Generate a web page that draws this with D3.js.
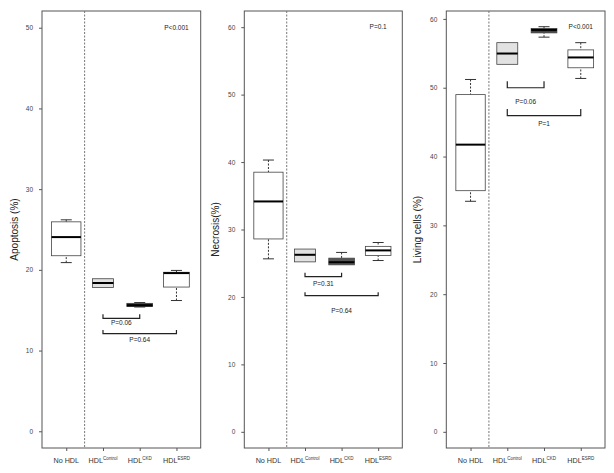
<!DOCTYPE html>
<html>
<head>
<meta charset="utf-8">
<script src="https://cdn.jsdelivr.net/npm/d3@7"></script>
<style>
  body { margin: 0; background: #fff; }
  svg { display: block; font-family: "Liberation Sans", Arial, sans-serif; }
</style>
</head>
<body>
<svg id="chart" width="614" height="473"></svg>
<script>
// groups on the x axis (main label + superscript)
var groups = ["No HDL", "HDL", "HDL", "HDL"],
    groupSup = ["", "Control", "CKD", "ESRD"],
    boxWidths = [0.8, 0.57, 0.7, 0.7],   // relative widths (varwidth)
    yTicks = [[0, 10, 20, 30, 40, 50], [0, 10, 20, 30, 40, 50, 60], [0, 10, 20, 30, 40, 50, 60]],
    yTitles = ["Apoptosis (%)", "Necrosis(%)", "Living cells (%)"],
    yDomains = [[-2.07, 52.07], [-2.4, 62.4], [-2.35, 61.15]];

// [lower whisker, q1, median, q3, upper whisker] per group
var apoptosis = [
    [20.9, 21.75, 24.06, 25.95, 26.2],
    [17.82, 17.82, 18.37, 18.9, 18.9],
    [15.4, 15.45, 15.6, 15.85, 15.95],
    [16.2, 17.87, 19.6, 19.7, 19.93]
];
var necrosis = [
    [25.65, 28.6, 34.16, 38.5, 40.3],
    [25.2, 25.2, 26.25, 27.1, 27.1],
    [24.76, 24.76, 25.15, 25.75, 26.6],
    [25.4, 26.15, 26.9, 27.5, 28.07]
];
var living = [
    [33.5, 35.04, 41.73, 49.0, 51.2],
    [53.4, 53.4, 54.97, 56.55, 56.55],
    [57.35, 57.97, 58.4, 58.6, 58.87],
    [51.35, 52.9, 54.4, 55.5, 56.55]
];

// overall p value per panel: text, value where it sits
var overallP = [["P<0.001", 50], ["P=0.1", 60], ["P<0.001", 58.8]];

// pairwise brackets: from group, to group, bar level, tip level, label, label level
var brackets1 = [
    [1, 2, 14.0, 14.5, "P=0.06", 13.4],
    [1, 3, 12.1, 12.55, "P=0.64", 11.4]
];
var brackets2 = [
    [1, 2, 23.0, 23.6, "P=0.31", 22.0],
    [1, 3, 20.2, 20.7, "P=0.64", 17.9]
];
var brackets3 = [
    [1, 2, 50.0, 50.95, "P=0.06", 47.9],
    [1, 3, 45.95, 46.9, "P=1", 44.8]
];

var fills = [
    ["#ffffff", "#e2e2e2", "#1e1e1e", "#ffffff"],
    ["#ffffff", "#e2e2e2", "#555555", "#ffffff"],
    ["#ffffff", "#e2e2e2", "#444444", "#ffffff"]
];

var panels = [
    { data: apoptosis, brackets: brackets1, left: 42, right: 200.7, titleX: 14 },
    { data: necrosis, brackets: brackets2, left: 244.3, right: 402.3, titleX: 215 },
    { data: living, brackets: brackets3, left: 446.3, right: 605, titleX: 417 }
];

var svg = d3.select("#chart"),
    plotTop = 11, plotBottom = 448,
    frameColor = "#555";

panels.forEach(function (p, pi) {
    var x = d3.scaleLinear().domain([0.34, 4.66]).range([p.left, p.right]),
        y = d3.scaleLinear().domain(yDomains[pi]).range([plotBottom, plotTop]),
        g = svg.append("g");

    // y axis
    var yAxis = d3.axisLeft(y).tickValues(yTicks[pi]).tickSize(3).tickPadding(6);
    var ya = g.append("g").attr("transform", "translate(" + p.left + ",0)").call(yAxis);
    ya.select(".domain").remove();
    ya.selectAll("line").attr("stroke", frameColor);
    ya.selectAll("text").attr("font-size", 6.5).attr("fill", "#444");

    // x axis ticks
    var xAxis = d3.axisBottom(x).tickValues([1, 2, 3, 4]).tickSize(3).tickFormat("");
    var xa = g.append("g").attr("transform", "translate(0," + plotBottom + ")").call(xAxis);
    xa.select(".domain").remove();
    xa.selectAll("line").attr("stroke", frameColor);

    // x labels with superscripts
    groups.forEach(function (lab, i) {
        var t = g.append("text")
            .attr("x", x(i + 1))
            .attr("y", plotBottom + 15)
            .attr("text-anchor", "middle")
            .attr("font-size", 7.2)
            .attr("fill", "#333");
        t.append("tspan").text(lab);
        if (groupSup[i]) {
            t.append("tspan").attr("font-size", 4.5).attr("dy", -3.5).text(groupSup[i]);
        }
    });

    // frame
    g.append("rect")
        .attr("x", p.left).attr("y", plotTop)
        .attr("width", p.right - p.left).attr("height", plotBottom - plotTop)
        .attr("fill", "none").attr("stroke", frameColor).attr("stroke-width", 1);

    // dashed separator
    g.append("line")
        .attr("x1", x(1.5)).attr("x2", x(1.5))
        .attr("y1", plotTop).attr("y2", plotBottom)
        .attr("stroke", "#777").attr("stroke-width", 1)
        .attr("stroke-dasharray", "2,1.5");

    // y title
    g.append("text")
        .attr("transform", "translate(" + p.titleX + "," + ((plotTop + plotBottom) / 2) + ") rotate(-90)")
        .attr("text-anchor", "middle")
        .attr("dy", "0.35em")
        .attr("font-size", 10)
        .attr("fill", "#222")
        .text(yTitles[pi]);

    // boxes
    p.data.forEach(function (s, i) {
        var cx = x(i + 1),
            hw = (x(boxWidths[i]) - x(0)) / 2,
            cap = (x(0.3) - x(0)) / 2,
            bg = g.append("g");

        // whiskers
        [[s[0], s[1]], [s[4], s[3]]].forEach(function (w) {
            if (Math.abs(w[0] - w[1]) > 0.01) {
                bg.append("line")
                    .attr("x1", cx).attr("x2", cx)
                    .attr("y1", y(w[0])).attr("y2", y(w[1]))
                    .attr("stroke", "#333").attr("stroke-dasharray", "2,1.5");
                bg.append("line")
                    .attr("x1", cx - cap).attr("x2", cx + cap)
                    .attr("y1", y(w[0])).attr("y2", y(w[0]))
                    .attr("stroke", "#333");
            }
        });

        bg.append("rect")
            .attr("x", cx - hw).attr("y", y(s[3]))
            .attr("width", 2 * hw).attr("height", y(s[1]) - y(s[3]))
            .attr("fill", fills[pi][i]).attr("stroke", "#444").attr("stroke-width", 0.8);

        bg.append("line")
            .attr("x1", cx - hw).attr("x2", cx + hw)
            .attr("y1", y(s[2])).attr("y2", y(s[2]))
            .attr("stroke", "#000").attr("stroke-width", 2);
    });

    // brackets
    p.brackets.forEach(function (b) {
        var x1 = x(b[0] + 1), x2 = x(b[1] + 1);
        g.append("path")
            .attr("d", "M" + x1 + "," + y(b[3]) + "V" + y(b[2]) + "H" + x2 + "V" + y(b[3]))
            .attr("fill", "none").attr("stroke", "#222").attr("stroke-width", 1.2);
        g.append("text")
            .attr("x", (x1 + x2) / 2).attr("y", y(b[5]))
            .attr("text-anchor", "middle").attr("dy", "0.35em")
            .attr("font-size", 6.5).attr("fill", "#222")
            .text(b[4]);
    });

    // overall p
    g.append("text")
        .attr("x", x(4)).attr("y", y(overallP[pi][1]))
        .attr("text-anchor", "middle").attr("dy", "0.35em")
        .attr("font-size", 6.5).attr("fill", "#222")
        .text(overallP[pi][0]);
});
</script>
</body>
</html>
